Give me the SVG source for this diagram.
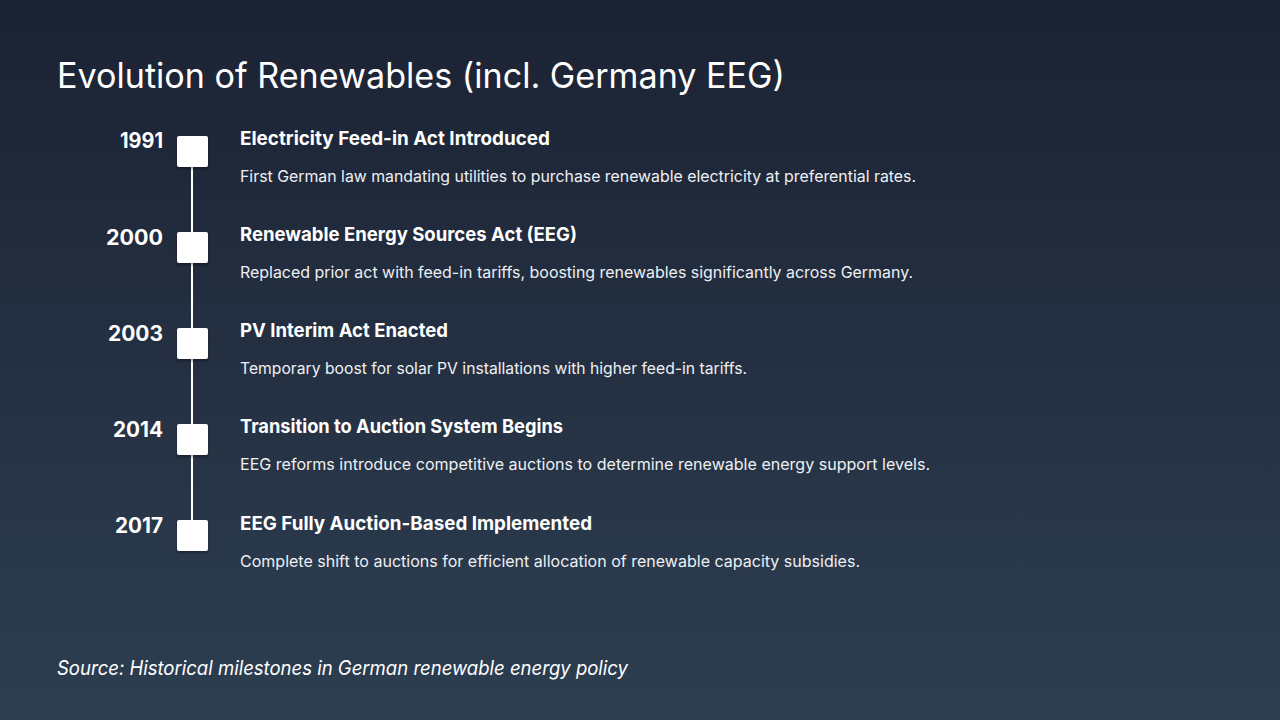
<svg xmlns="http://www.w3.org/2000/svg" width="1280" height="720" viewBox="0 0 1280 720">
<defs>
<linearGradient id="bg" x1="0" y1="0" x2="0" y2="1">
<stop offset="0" stop-color="#1b2233"/>
<stop offset="1" stop-color="#2d3e51"/>
</linearGradient>
<filter id="sh" x="-30%" y="-30%" width="160%" height="160%">
<feDropShadow dx="0" dy="2" stdDeviation="1.5" flood-color="#000" flood-opacity="0.35"/>
</filter>
<style>
.t{font-family:Inter,"Liberation Sans",sans-serif;fill:#ffffff}
.title{font-size:35px;font-weight:400}
.yr{font-size:21px;font-weight:700;text-anchor:end}
.hd{font-size:19px;font-weight:700}
.ds{font-size:16px;font-weight:400;fill:#eef0f3}
.src{font-size:20px;font-style:italic}
.box{fill:#ffffff;filter:url(#sh)}
</style>
</defs>
<rect width="1280" height="720" fill="url(#bg)"/>
<text class="t title" x="57" y="88" textLength="728" lengthAdjust="spacingAndGlyphs">Evolution of Renewables (incl. Germany EEG)</text>
<g id="connectors">
<line x1="192" y1="160" x2="192" y2="530" stroke="#ffffff" stroke-width="2"/>
</g>
<g id="node-1991">
<rect class="box" x="177" y="136" width="31" height="31" rx="2"/>
<text class="t yr" x="163" y="148" textLength="43" lengthAdjust="spacingAndGlyphs">1991</text>
<text class="t hd" x="240" y="145" textLength="310" lengthAdjust="spacingAndGlyphs">Electricity Feed-in Act Introduced</text>
<text class="t ds" x="240" y="182" textLength="676" lengthAdjust="spacingAndGlyphs">First German law mandating utilities to purchase renewable electricity at preferential rates.</text>
</g>
<g id="node-2000">
<rect class="box" x="177" y="232" width="31" height="31" rx="2"/>
<text class="t yr" x="163" y="245" textLength="57" lengthAdjust="spacingAndGlyphs">2000</text>
<text class="t hd" x="240" y="241" textLength="337" lengthAdjust="spacingAndGlyphs">Renewable Energy Sources Act (EEG)</text>
<text class="t ds" x="240" y="278" textLength="673" lengthAdjust="spacingAndGlyphs">Replaced prior act with feed-in tariffs, boosting renewables significantly across Germany.</text>
</g>
<g id="node-2003">
<rect class="box" x="177" y="328" width="31" height="31" rx="2"/>
<text class="t yr" x="163" y="341" textLength="55" lengthAdjust="spacingAndGlyphs">2003</text>
<text class="t hd" x="240" y="337" textLength="208" lengthAdjust="spacingAndGlyphs">PV Interim Act Enacted</text>
<text class="t ds" x="240" y="374" textLength="507" lengthAdjust="spacingAndGlyphs">Temporary boost for solar PV installations with higher feed-in tariffs.</text>
</g>
<g id="node-2014">
<rect class="box" x="177" y="424" width="31" height="31" rx="2"/>
<text class="t yr" x="163" y="437" textLength="50" lengthAdjust="spacingAndGlyphs">2014</text>
<text class="t hd" x="240" y="433" textLength="323" lengthAdjust="spacingAndGlyphs">Transition to Auction System Begins</text>
<text class="t ds" x="240" y="470" textLength="690" lengthAdjust="spacingAndGlyphs">EEG reforms introduce competitive auctions to determine renewable energy support levels.</text>
</g>
<g id="node-2017">
<rect class="box" x="177" y="520" width="31" height="31" rx="2"/>
<text class="t yr" x="163" y="533" textLength="48" lengthAdjust="spacingAndGlyphs">2017</text>
<text class="t hd" x="240" y="530" textLength="352" lengthAdjust="spacingAndGlyphs">EEG Fully Auction-Based Implemented</text>
<text class="t ds" x="240" y="567" textLength="620" lengthAdjust="spacingAndGlyphs">Complete shift to auctions for efficient allocation of renewable capacity subsidies.</text>
</g>
<text class="t src" x="57" y="675" textLength="571" lengthAdjust="spacingAndGlyphs">Source: Historical milestones in German renewable energy policy</text>
</svg>
